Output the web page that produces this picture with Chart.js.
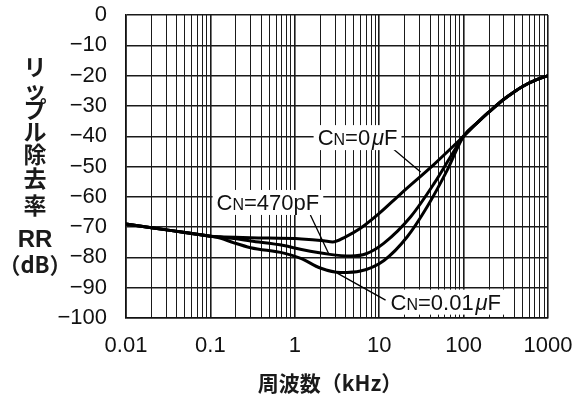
<!DOCTYPE html>
<html><head><meta charset="utf-8">
<script src="https://cdn.jsdelivr.net/npm/chart.js@4/dist/chart.umd.min.js"></script>
<style>html,body{margin:0;padding:0;background:#fff}#wrap{width:575px;height:399px}</style>
</head><body><div id="wrap"><canvas id="c" width="575" height="399"></canvas></div>
<script>
// ---- data ----
const freq0uF   = [0.01,0.02,0.05,0.1,0.13,0.3,1.2,2.2,2.8,4,6,10,18,45,100,150,200,300,400,500,700,1000];
const rr0uF     = [-69,-70.2,-71.8,-73,-73.2,-73.5,-73.9,-74.5,-74.9,-73.2,-70.4,-65.5,-59,-49.2,-40,-35.2,-32,-27.8,-25.3,-23.6,-21.6,-20];
const freq470pF = [0.01,0.02,0.05,0.1,0.13,0.19,0.3,0.74,1.2,2.6,4.6,7,11.4,23.6,45,70,100,150,200,300,400,500,700,1000];
const rr470pF   = [-69,-70.2,-71.8,-73,-73.3,-73.8,-74.6,-76.1,-77.4,-79,-79.5,-78.8,-75.3,-66.6,-55.5,-46.8,-40,-35.2,-32,-27.8,-25.3,-23.6,-21.6,-20];
const freq001uF = [0.01,0.02,0.05,0.1,0.13,0.19,0.3,0.74,1.2,2,3.5,6,11.4,21.5,37,64,100,150,200,300,400,500,700,1000];
const rr001uF   = [-69,-70.2,-71.8,-73,-73.6,-75.2,-76.8,-78.6,-80.4,-83.5,-85,-84.5,-81,-73.2,-63.3,-51.2,-40,-35.2,-32,-27.8,-25.3,-23.6,-21.6,-20];
const xTickValues = [0.01,0.1,1,10,100,1000];
const xTickLabels = ['0.01','0.1','1','10','100','1000'];
const yTickValues = [0,-10,-20,-30,-40,-50,-60,-70,-80,-90,-100];
const yTickLabels = ['0','\u221210','\u221220','\u221230','\u221240','\u221250','\u221260','\u221270','\u221280','\u221290','\u2212100'];
const xTitle = '周波数（kHz）';
const yTitleChars = ['リ','ッ','プ','ル','除','去','率'];
const yTitleLines = ['RR','（dB）'];
const seriesLabels = [
  [{t:'C'},{t:'N',small:true},{t:'=0'},{t:'\u200a'},{t:'μ',it:true},{t:'F'}],
  [{t:'C'},{t:'N',small:true},{t:'=470pF'}],
  [{t:'C'},{t:'N',small:true},{t:'=0.01'},{t:'\u200a'},{t:'μ',it:true},{t:'F'}]
];

// ---- layout / style (not data) ----
const FONT = '"Liberation Sans", Arial, sans-serif';
const JFONT = '"Noto Sans CJK JP", sans-serif';
const annot = [ // label centre and leader line in data coordinates
  {label:0, at:[5.54,-40.3], line:[[12.9,-42.9],[31,-51.8]]},
  {label:1, at:[0.48,-61.7], line:[[1.53,-66],[2.53,-78.9]]},
  {label:2, at:[61.5,-94.6], line:[[3.18,-85.2],[11.9,-94.1]]}
];

function mk(fs, vs){ return fs.map((f,i)=>({x:f,y:vs[i]})); }
function dsStyle(data){ return {data, borderColor:'#000', borderWidth:3, pointRadius:0, fill:false, cubicInterpolationMode:'monotone'}; }
function isDecade(v){ return xTickValues.some(d=>Math.abs(d-v)/d<1e-6); }

const deco = {
  id:'deco',
  afterDraw(chart){
    const ctx = chart.ctx, xs = chart.scales.x, ys = chart.scales.y;
    ctx.save();
    annot.forEach(a=>{
      const parts = seriesLabels[a.label];
      ctx.strokeStyle='#000'; ctx.lineWidth=1.3;
      ctx.beginPath();
      ctx.moveTo(xs.getPixelForValue(a.line[0][0]), ys.getPixelForValue(a.line[0][1]));
      ctx.lineTo(xs.getPixelForValue(a.line[1][0]), ys.getPixelForValue(a.line[1][1]));
      ctx.stroke();
      const fonts = parts.map(p=> (p.it?'italic ':'') + (p.small?'16px ':'22px ') + FONT);
      let w=0; const ws=[];
      parts.forEach((p,i)=>{ ctx.font=fonts[i]; const m=ctx.measureText(p.t).width; ws.push(m); w+=m; });
      const cx = xs.getPixelForValue(a.at[0]), cy = ys.getPixelForValue(a.at[1]);
      ctx.fillStyle='#fff';
      ctx.fillRect(cx-w/2-4, cy-12, w+8, 25);
      ctx.fillStyle='#111'; ctx.textBaseline='alphabetic'; ctx.textAlign='left';
      let x = cx-w/2;
      parts.forEach((p,i)=>{ ctx.font=fonts[i]; ctx.fillText(p.t, x, cy+8); x+=ws[i]; });
    });
    ctx.fillStyle='#1a1a1a'; ctx.textAlign='center'; ctx.textBaseline='middle';
    ctx.font = 'bold 23px ' + JFONT;
    const yc = [67,89,109,131,154,178,205];
    yTitleChars.forEach((c,i)=>{ ctx.fillText(c, 35, yc[i]); });
    ctx.font = 'bold 24px ' + FONT;
    ctx.fillText(yTitleLines[0], 35, 240);
    ctx.font = 'bold 22px ' + JFONT;
    ctx.fillText(yTitleLines[1], 35, 265);
    ctx.font = 'bold 21px ' + JFONT;
    ctx.fillText(xTitle, 330, 383);
    ctx.restore();
  }
};

function zeroPad(s){ s.paddingTop=0; s.paddingBottom=0; s.paddingLeft=0; s.paddingRight=0; }

new Chart(document.getElementById('c'), {
  type:'line',
  data:{ datasets:[ dsStyle(mk(freq0uF, rr0uF)), dsStyle(mk(freq470pF, rr470pF)), dsStyle(mk(freq001uF, rr001uF)) ] },
  options:{
    responsive:false, animation:false, devicePixelRatio:1,
    layout:{ autoPadding:false, padding:{left:0, right:27, top:15, bottom:0} },
    plugins:{ legend:{display:false}, tooltip:{enabled:false} },
    scales:{
      x:{
        type:'logarithmic', min:0.01, max:1000,
        afterBuildTicks(s){
          const t=[];
          for (let e=-2;e<3;e++){ for(let k=1;k<10;k++){ t.push({value: k*Math.pow(10,e)}); } }
          t.push({value:1000});
          s.ticks = t;
        },
        afterFit(s){ s.height = 81; zeroPad(s); },
        ticks:{ autoSkip:false, maxRotation:0, minRotation:0, padding:15, color:'#111',
          font:{family:FONT, size:22},
          callback(v){ const i = xTickValues.findIndex(d=>Math.abs(d-v)/d<1e-6); return i>=0 ? xTickLabels[i] : ''; } },
        grid:{ drawTicks:false, color:'#1a1a1a', lineWidth:(c)=> (c.tick && isDecade(c.tick.value)) ? 1.6 : 1 },
        border:{ color:'#111', width:1.6 }
      },
      y:{
        type:'linear', min:-100, max:0,
        afterBuildTicks(s){ s.ticks = yTickValues.map(v=>({value:v})); },
        afterFit(s){ s.width = 126; zeroPad(s); },
        ticks:{ padding:19, color:'#111', font:{family:FONT, size:22},
          callback(v){ const i = yTickValues.indexOf(v); return i>=0 ? yTickLabels[i] : ''; } },
        grid:{ drawTicks:false, color:'#1a1a1a', lineWidth:1.4 },
        border:{ color:'#111', width:1.6 }
      }
    }
  },
  plugins:[deco]
});
</script></body></html>
